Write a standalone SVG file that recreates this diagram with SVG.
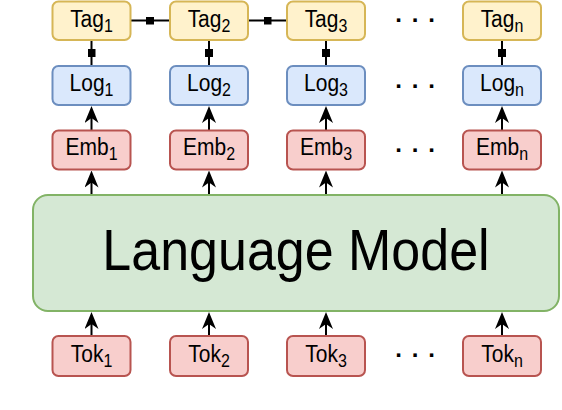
<svg xmlns="http://www.w3.org/2000/svg" width="562" height="410" viewBox="0 0 562 410">
<style>
.box{stroke-width:2}
.tag{fill:#fff2cc;stroke:#d6b656}
.log{fill:#dae8fc;stroke:#6c8ebf}
.red{fill:#f8cecc;stroke:#b85450}
.lm{fill:#d5e8d4;stroke:#82b366;stroke-width:2}
.t{font-family:"Liberation Sans",Arial,sans-serif;font-size:21px;fill:#000;text-anchor:middle}
.s{font-size:16px}
.big{font-family:"Liberation Sans",Arial,sans-serif;font-size:52px;fill:#000;text-anchor:middle}
.dots{font-family:"Liberation Sans",Arial,sans-serif;font-size:24px;font-weight:bold;fill:#000;text-anchor:middle}
.arr{stroke:#000;stroke-width:2;fill:none;marker-end:url(#ah)}
.lnk{stroke:#000;stroke-width:2;fill:none;marker-mid:url(#sq)}
</style>
<defs>
<marker id="ah" viewBox="0 0 17 14" markerWidth="17" markerHeight="14" refX="9" refY="7" orient="auto" markerUnits="userSpaceOnUse">
<path d="M0,0 L17,7 L0,14 L5,7 z" fill="#000"/>
</marker>
<marker id="sq" viewBox="0 0 8 8" markerWidth="8" markerHeight="8" refX="4" refY="4" orient="auto" markerUnits="userSpaceOnUse">
<rect width="8" height="8" fill="#000"/>
</marker>
</defs>

<g id="connectors">
<path class="arr" d="M91.5,336 V320"/>
<path class="arr" d="M209,336 V320"/>
<path class="arr" d="M326,336 V320"/>
<path class="arr" d="M502,336 V320"/>
<path class="arr" d="M91.5,195 V178.5"/>
<path class="arr" d="M209,195 V178.5"/>
<path class="arr" d="M326,195 V178.5"/>
<path class="arr" d="M502,195 V178.5"/>
<path class="arr" d="M91.5,130.5 V114"/>
<path class="arr" d="M209,130.5 V114"/>
<path class="arr" d="M326,130.5 V114"/>
<path class="arr" d="M502,130.5 V114"/>
<path class="lnk" d="M91.5,66 V53 V40"/>
<path class="lnk" d="M209,66 V53 V40"/>
<path class="lnk" d="M326,66 V53 V40"/>
<path class="lnk" d="M502,66 V53 V40"/>
<path class="lnk" d="M130.5,20.5 H150 H170"/>
<path class="lnk" d="M248,20.5 H267.5 H287"/>
</g>

<g id="lm">
<rect class="lm" x="33" y="195" width="526" height="116" rx="15"/>
<text class="big" transform="translate(296,270) scale(1,1.12)">Language Model</text>
</g>

<g id="tag1"><rect class="box tag" x="52.5" y="1.5" width="78" height="38.5" rx="6"/><text class="t" transform="translate(91.5,26.5) scale(1,1.12)">Tag<tspan class="s" dy="4.5">1</tspan></text></g>
<g id="tag2"><rect class="box tag" x="170" y="1.5" width="78" height="38.5" rx="6"/><text class="t" transform="translate(209,26.5) scale(1,1.12)">Tag<tspan class="s" dy="4.5">2</tspan></text></g>
<g id="tag3"><rect class="box tag" x="287" y="1.5" width="78" height="38.5" rx="6"/><text class="t" transform="translate(326,26.5) scale(1,1.12)">Tag<tspan class="s" dy="4.5">3</tspan></text></g>
<g id="tagn"><rect class="box tag" x="463" y="1.5" width="78" height="38.5" rx="6"/><text class="t" transform="translate(502,26.5) scale(1,1.12)">Tag<tspan class="s" dy="4.5">n</tspan></text></g>

<g id="log1"><rect class="box log" x="52.5" y="66" width="78" height="39" rx="6"/><text class="t" transform="translate(91.5,90.7) scale(1,1.12)">Log<tspan class="s" dy="4.5">1</tspan></text></g>
<g id="log2"><rect class="box log" x="170" y="66" width="78" height="39" rx="6"/><text class="t" transform="translate(209,90.7) scale(1,1.12)">Log<tspan class="s" dy="4.5">2</tspan></text></g>
<g id="log3"><rect class="box log" x="287" y="66" width="78" height="39" rx="6"/><text class="t" transform="translate(326,90.7) scale(1,1.12)">Log<tspan class="s" dy="4.5">3</tspan></text></g>
<g id="logn"><rect class="box log" x="463" y="66" width="78" height="39" rx="6"/><text class="t" transform="translate(502,90.7) scale(1,1.12)">Log<tspan class="s" dy="4.5">n</tspan></text></g>

<g id="emb1"><rect class="box red" x="52.5" y="130.5" width="78" height="39" rx="6"/><text class="t" transform="translate(91.5,155.3) scale(1,1.12)">Emb<tspan class="s" dy="4.5">1</tspan></text></g>
<g id="emb2"><rect class="box red" x="170" y="130.5" width="78" height="39" rx="6"/><text class="t" transform="translate(209,155.3) scale(1,1.12)">Emb<tspan class="s" dy="4.5">2</tspan></text></g>
<g id="emb3"><rect class="box red" x="287" y="130.5" width="78" height="39" rx="6"/><text class="t" transform="translate(326,155.3) scale(1,1.12)">Emb<tspan class="s" dy="4.5">3</tspan></text></g>
<g id="embn"><rect class="box red" x="463" y="130.5" width="78" height="39" rx="6"/><text class="t" transform="translate(502,155.3) scale(1,1.12)">Emb<tspan class="s" dy="4.5">n</tspan></text></g>

<g id="tok1"><rect class="box red" x="52.5" y="336" width="78" height="40" rx="6"/><text class="t" transform="translate(91.5,361.7) scale(1,1.12)">Tok<tspan class="s" dy="4.5">1</tspan></text></g>
<g id="tok2"><rect class="box red" x="170" y="336" width="78" height="40" rx="6"/><text class="t" transform="translate(209,361.7) scale(1,1.12)">Tok<tspan class="s" dy="4.5">2</tspan></text></g>
<g id="tok3"><rect class="box red" x="287" y="336" width="78" height="40" rx="6"/><text class="t" transform="translate(326,361.7) scale(1,1.12)">Tok<tspan class="s" dy="4.5">3</tspan></text></g>
<g id="tokn"><rect class="box red" x="463" y="336" width="78" height="40" rx="6"/><text class="t" transform="translate(502,361.7) scale(1,1.12)">Tok<tspan class="s" dy="4.5">n</tspan></text></g>

<g id="dots">
<text class="dots" x="398.5 415 431.5" y="22">...</text>
<text class="dots" x="398.5 415 431.5" y="88">...</text>
<text class="dots" x="398.5 415 431.5" y="152">...</text>
<text class="dots" x="398.5 415 431.5" y="357">...</text>
</g>
</svg>
